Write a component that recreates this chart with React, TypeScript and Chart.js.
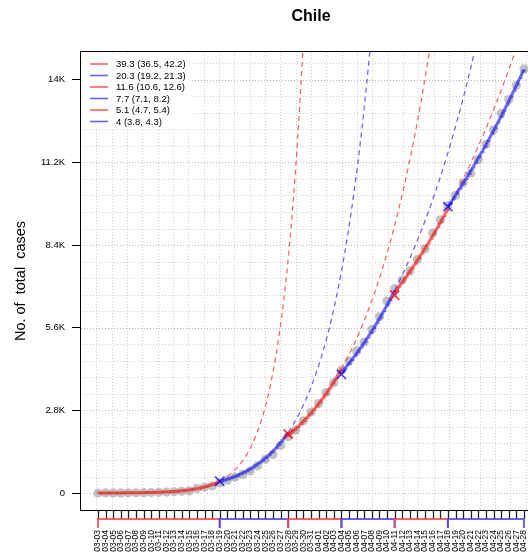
import React, { useEffect, useRef } from 'react';
import { Chart, registerables } from 'chart.js';

Chart.register(...registerables);

const FONT = '"Liberation Sans", Arial, Helvetica, sans-serif';

const dates = [
  '03-03', '03-04', '03-05', '03-06', '03-07', '03-08', '03-09', '03-10', '03-11', '03-12',
  '03-13', '03-14', '03-15', '03-16', '03-17', '03-18', '03-19', '03-20', '03-21', '03-22',
  '03-23', '03-24', '03-25', '03-26', '03-27', '03-28', '03-29', '03-30', '03-31',
  '04-01', '04-02', '04-03', '04-04', '04-05', '04-06', '04-07', '04-08', '04-09', '04-10',
  '04-11', '04-12', '04-13', '04-14', '04-15', '04-16', '04-17', '04-18', '04-19', '04-20',
  '04-21', '04-22', '04-23', '04-24', '04-25', '04-26', '04-27', '04-28',
];

const totalCases = [
  1, 3, 4, 5, 7, 10, 13, 17, 23, 33,
  43, 61, 75, 156, 201, 238, 342, 434, 537, 632,
  746, 922, 1142, 1306, 1610, 1909, 2139, 2449, 2738,
  3031, 3404, 3737, 4161, 4471, 4815, 5116, 5546, 5972, 6501,
  6927, 7213, 7525, 7917, 8273, 8807, 9252, 9730, 10088, 10507,
  10832, 11296, 11812, 12306, 12858, 13331, 13813, 14365,
];

// segments (day indices into dates)
const segStart = [0, 16, 25, 32, 39, 46];
const segEnd = [16, 25, 32, 39, 46, 56];
const segColor = ['red', 'blue', 'red', 'blue', 'red', 'blue'];
const growthPct = [39.3, 20.3, 11.6, 7.7, 5.1, 4];
const growthLow = [36.5, 19.2, 10.6, 7.1, 4.7, 3.8];
const growthHigh = [42.2, 21.3, 12.6, 8.2, 5.4, 4.3];
const fitStartValue = [2, 390, 1950, 4080, 6800, 9700];

// breakpoint markers
const markerDay = [16, 25, 32, 39, 46];
const markerValue = [400, 2000, 4020, 6700, 9700];
const markerColor = ['blue', 'red', 'blue', 'red', 'blue'];

const yTickValues = [0, 2800, 5600, 8400, 11200, 14000];
const yTickLabels = ['0', '2.8K', '5.6K', '8.4K', '11.2K', '14K'];

const X_MIN = -2.24;
const X_MAX = 58.24;
const Y_MIN = -574.6;
const Y_MAX = 14939.6;

const solidCol: Record<string, string> = { red: 'rgba(255,0,0,0.62)', blue: 'rgba(0,0,255,0.6)' };
const dashCol: Record<string, string> = { red: 'rgba(255,40,40,0.75)', blue: 'rgba(40,40,255,0.75)' };
const legendCol: Record<string, string> = { red: 'rgba(255,60,60,0.8)', blue: 'rgba(60,60,255,0.8)' };
const markCol: Record<string, string> = { red: 'rgba(255,0,0,0.8)', blue: 'rgba(0,0,255,0.75)' };

function curve(i: number, from: number, to: number) {
  const pts: { x: number; y: number }[] = [];
  const n = Math.round((to - from) / 0.1);
  for (let k = 0; k <= n; k++) {
    const t = from + ((to - from) * k) / n;
    const v = fitStartValue[i] * Math.pow(1 + growthPct[i] / 100, t - segStart[i]);
    pts.push({ x: t, y: v });
    if (v > Y_MAX) break;
  }
  return pts;
}

const decor = {
  id: 'decor',
  beforeDatasetsDraw(chart: any) {
    const { ctx, chartArea: a, scales } = chart;
    const x = scales.x;
    const y = scales.y;
    ctx.save();
    ctx.beginPath();
    ctx.rect(a.left, a.top, a.right - a.left, a.bottom - a.top);
    ctx.clip();
    ctx.lineWidth = 1;
    ctx.setLineDash([1, 2]);
    ctx.strokeStyle = '#cfcfcf';
    for (let k = 1; k < 30; k++) {
      const px = Math.round(x.getPixelForValue(X_MIN + (k * (X_MAX - X_MIN)) / 30)) + 0.5;
      ctx.beginPath();
      ctx.moveTo(px, a.top);
      ctx.lineTo(px, a.bottom);
      ctx.stroke();
    }
    for (let v = 0; v < Y_MAX; v += 560) {
      if (v % 2800 === 0) continue;
      const py = Math.round(y.getPixelForValue(v)) + 0.5;
      ctx.beginPath();
      ctx.moveTo(a.left, py);
      ctx.lineTo(a.right, py);
      ctx.stroke();
    }
    ctx.strokeStyle = '#b4b4b4';
    for (const v of yTickValues) {
      const py = Math.round(y.getPixelForValue(v)) + 0.5;
      ctx.beginPath();
      ctx.moveTo(a.left, py);
      ctx.lineTo(a.right, py);
      ctx.stroke();
    }
    ctx.restore();
  },
  afterDraw(chart: any) {
    const { ctx, chartArea: a, scales } = chart;
    const x = scales.x;
    ctx.save();
    // title
    ctx.fillStyle = '#000';
    ctx.font = `bold 16px ${FONT}`;
    ctx.textAlign = 'center';
    ctx.textBaseline = 'middle';
    ctx.fillText('Chile', (a.left + a.right) / 2, 17);

    // plot box
    ctx.strokeStyle = '#000';
    ctx.lineWidth = 1;
    ctx.strokeRect(a.left - 0.5, a.top - 0.5, a.right - a.left + 1, a.bottom - a.top + 1);

    // daily tick comb under the plot
    ctx.strokeStyle = '#222';
    ctx.lineWidth = 1.3;
    for (let i = 0; i < dates.length; i++) {
      const px = Math.round(x.getPixelForValue(i)) + 0.5;
      ctx.beginPath();
      ctx.moveTo(px, a.bottom);
      ctx.lineTo(px, a.bottom + 9);
      ctx.stroke();
    }

    // segment brackets under the axis
    const by = a.bottom + 9;
    ctx.lineWidth = 2;
    for (let i = 0; i < segStart.length; i++) {
      const x0 = x.getPixelForValue(segStart[i]);
      const x1 = x.getPixelForValue(segEnd[i]);
      ctx.strokeStyle = legendCol[segColor[i]];
      ctx.beginPath();
      ctx.moveTo(x0, by + 9);
      ctx.lineTo(x0, by);
      ctx.lineTo(x1, by);
      ctx.lineTo(x1, by + 9);
      ctx.stroke();
    }

    // legend
    const lx = a.left;
    const ly = a.top;
    ctx.fillStyle = '#fff';
    ctx.fillRect(lx + 1, ly + 1, 109, 75);
    ctx.font = `9.5px ${FONT}`;
    ctx.textAlign = 'left';
    ctx.textBaseline = 'middle';
    for (let i = 0; i < growthPct.length; i++) {
      const ry = ly + 12 + i * 11.5;
      ctx.strokeStyle = legendCol[segColor[i]];
      ctx.lineWidth = 1.6;
      ctx.beginPath();
      ctx.moveTo(lx + 9, ry);
      ctx.lineTo(lx + 27, ry);
      ctx.stroke();
      ctx.fillStyle = '#000';
      ctx.fillText(`${growthPct[i]} (${growthLow[i]}, ${growthHigh[i]})`, lx + 35, ry + 0.5);
    }
    ctx.restore();
  },
};

export default function App() {
  const ref = useRef<HTMLCanvasElement>(null);

  useEffect(() => {
    if (!ref.current) return;
    const datasets: any[] = [];

    datasets.push({
      label: 'cases',
      data: totalCases.map((v, i) => ({ x: i, y: v })),
      showLine: false,
      pointRadius: 4.6,
      pointBackgroundColor: 'rgba(120,120,120,0.45)',
      pointBorderWidth: 0,
      borderColor: 'rgba(0,0,0,0)',
      order: 10,
    });

    for (let i = 0; i < segStart.length; i++) {
      datasets.push({
        label: `fit${i}`,
        data: curve(i, segStart[i], segEnd[i]),
        borderColor: solidCol[segColor[i]],
        borderWidth: 3,
        pointRadius: 0,
        tension: 0,
        order: 3,
      });
      if (i < segStart.length - 1) {
        datasets.push({
          label: `proj${i}`,
          data: curve(i, segEnd[i], X_MAX),
          borderColor: dashCol[segColor[i]],
          borderWidth: 1.2,
          borderDash: [5, 4],
          pointRadius: 0,
          tension: 0,
          order: 5,
        });
      }
    }

    datasets.push({
      label: 'breaks',
      data: markerDay.map((d, i) => ({ x: d, y: markerValue[i] })),
      showLine: false,
      pointStyle: 'crossRot',
      pointRadius: 6.5,
      pointBorderWidth: 1.6,
      pointBorderColor: markerColor.map((c) => markCol[c]),
      order: 1,
    });

    const chart = new Chart(ref.current, {
      type: 'line',
      data: { datasets },
      plugins: [decor],
      options: {
        responsive: false,
        animation: false,
        events: [],
        layout: { padding: { top: 52, right: 79, left: 0, bottom: 0 } },
        plugins: { legend: { display: false }, tooltip: { enabled: false }, title: { display: false } },
        scales: {
          x: {
            type: 'linear',
            min: X_MIN,
            max: X_MAX,
            afterBuildTicks: (s: any) => {
              s.ticks = dates.map((_, i) => ({ value: i }));
            },
            afterFit: (s: any) => {
              s.height = 42;
            },
            ticks: {
              autoSkip: false,
              maxRotation: 90,
              minRotation: 90,
              padding: 11,
              color: '#000',
              font: { family: FONT, size: 8.5 },
              callback: (v: any) => dates[v] ?? '',
            },
            grid: {
              display: true,
              drawOnChartArea: false,
              drawTicks: true,
              tickLength: 9,
              tickColor: 'rgba(0,0,0,0)',
              tickWidth: 1,
            },
            border: { display: false },
          },
          y: {
            type: 'linear',
            min: Y_MIN,
            max: Y_MAX,
            afterBuildTicks: (s: any) => {
              s.ticks = yTickValues.map((v) => ({ value: v }));
            },
            afterFit: (s: any) => {
              s.width = 81;
            },
            ticks: {
              padding: 7,
              color: '#000',
              font: { family: FONT, size: 9.5 },
              callback: (v: any) => {
                const idx = yTickValues.indexOf(v);
                return idx >= 0 ? yTickLabels[idx] : '';
              },
            },
            grid: {
              display: true,
              drawOnChartArea: false,
              drawTicks: true,
              tickLength: 9,
              tickColor: '#000',
              tickWidth: 1,
            },
            border: { display: false },
            title: {
              display: true,
              text: 'No. of  total  cases',
              color: '#000',
              font: { family: FONT, size: 14.5 },
              padding: { top: 12, bottom: 0 },
            },
          },
        },
      },
    });
    return () => chart.destroy();
  }, []);

  return (
    <div style={{ position: 'fixed', left: 0, top: 0, width: 528, height: 552, overflow: 'hidden', background: '#fff' }}>
      <canvas ref={ref} width={620} height={552} style={{ display: 'block' }} />
    </div>
  );
}
